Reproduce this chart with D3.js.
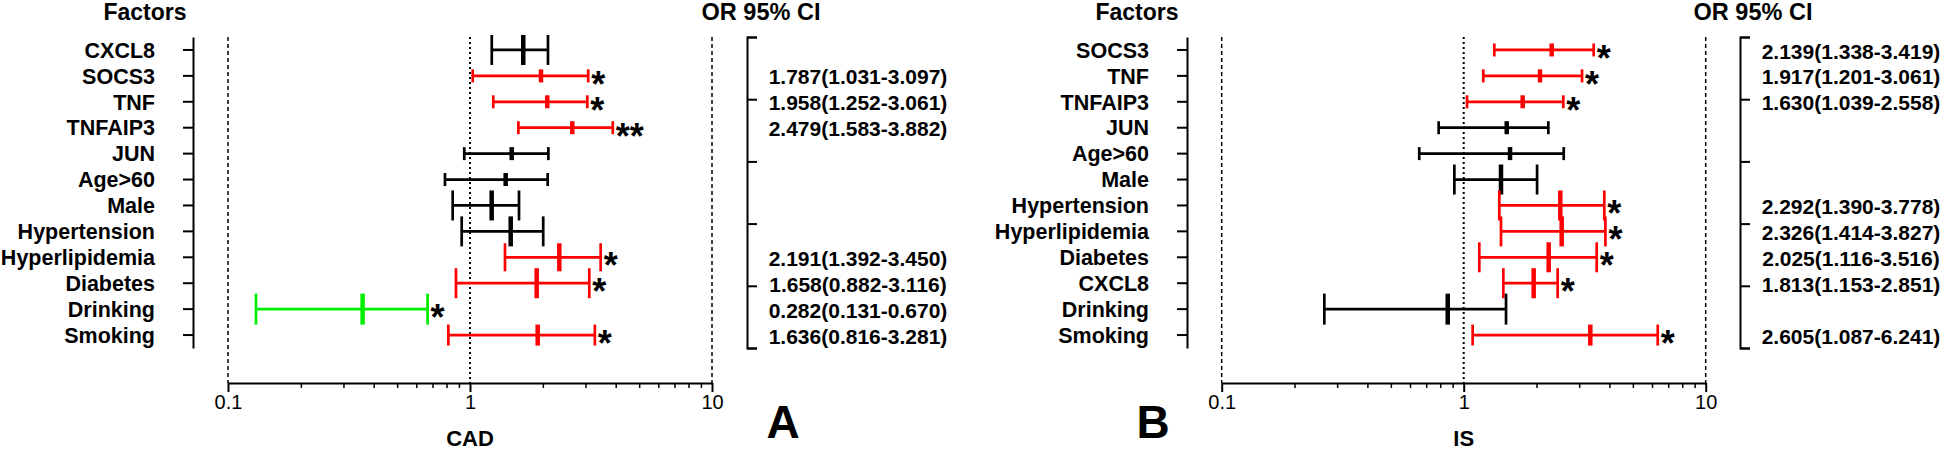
<!DOCTYPE html>
<html>
<head>
<meta charset="utf-8">
<script src="https://cdnjs.cloudflare.com/ajax/libs/d3/7.8.5/d3.min.js"></script>
<style>
  body { margin: 0; background: #fff; }
  svg text { font-family: "Liberation Sans", Arial, sans-serif; fill: #000; }
</style>
</head>
<body>
<script>
/*** DATA ***/
// panel A : CAD
const rowsA = ["CXCL8", "SOCS3", "TNF", "TNFAIP3", "JUN", "Age>60", "Male", "Hypertension", "Hyperlipidemia", "Diabetes", "Drinking", "Smoking"];
const lowA  = [1.23, 1.026, 1.248, 1.584, 0.947, 0.788, 0.848, 0.924, 1.395, 0.875, 0.1305, 0.814];
const midA  = [1.66, 1.965, 2.086, 2.647, 1.487, 1.404, 1.229, 1.473, 2.339, 1.886, 0.360, 1.904];
const highA = [2.10, 3.08, 3.053, 3.89, 2.108, 2.094, 1.594, 2.007, 3.467, 3.111, 0.668, 3.28];
const starsA = ["", "*", "*", "**", "", "", "", "", "*", "*", "*", "*"];
const orA = ["", "1.787(1.031-3.097)", "1.958(1.252-3.061)", "2.479(1.583-3.882)", "", "", "", "",
             "2.191(1.392-3.450)", "1.658(0.882-3.116)", "0.282(0.131-0.670)", "1.636(0.816-3.281)"];

// panel B : IS
const rowsB = ["SOCS3", "TNF", "TNFAIP3", "JUN", "Age>60", "Male", "Hypertension", "Hyperlipidemia", "Diabetes", "CXCL8", "Drinking", "Smoking"];
const lowB  = [1.338, 1.205, 1.032, 0.788, 0.655, 0.915, 1.403, 1.426, 1.16, 1.458, 0.2655, 1.089];
const midB  = [2.31, 2.067, 1.753, 1.506, 1.554, 1.426, 2.507, 2.54, 2.245, 1.946, 0.859, 3.336];
const highB = [3.445, 3.083, 2.58, 2.237, 2.59, 2.01, 3.81, 3.85, 3.545, 2.445, 1.496, 6.336];
const starsB = ["*", "*", "*", "", "", "", "*", "*", "*", "*", "", "*"];
const orB = ["2.139(1.338-3.419)", "1.917(1.201-3.061)", "1.630(1.039-2.558)", "", "", "",
             "2.292(1.390-3.778)", "2.326(1.414-3.827)", "2.025(1.116-3.516)", "1.813(1.153-2.851)", "", "2.605(1.087-6.241)"];

const xTicks = [0.1, 1, 10];

/* hauteur des barres de fin (style) */
const capA = [30, 13, 13, 13, 13, 13, 30, 30, 28, 30, 31, 21];
const capB = [13, 13, 13, 13, 13, 30, 30, 30, 30, 30, 31, 21];

/*** GRAPH ***/
let W = 1946, H = 451;
let plotTop = 37, plotBottom = 348, axisY = 383;

let svg = d3.select("body").append("svg")
  .attr("width", W)
  .attr("height", H);

function drawPanel(p) {
  let data = p.rows.map((r, i) => ({
    name: r, low: p.low[i], mid: p.mid[i], high: p.high[i],
    star: p.stars[i], or: p.or[i], cap: p.caps[i]
  }));

  let x = d3.scaleLog().domain([0.1, 10]).range(p.xRange);
  let y = d3.scaleBand().domain(p.rows).range([plotTop, plotBottom]);
  let yc = (d) => y(d) + y.bandwidth() / 2;

  let g = svg.append("g");

  /* titres */
  g.append("text").attr("x", p.factorsX).attr("y", 20)
    .attr("text-anchor", "middle").style("font-size", "23px").style("font-weight", "bold")
    .text("Factors");
  g.append("text").attr("x", p.orTitleX).attr("y", 20)
    .attr("text-anchor", "middle").style("font-size", "23.5px").style("font-weight", "bold")
    .text("OR 95% CI");

  /* lignes pointillées */
  g.selectAll(".ref")
    .data(xTicks)
    .enter().append("line")
    .attr("x1", (d) => x(d)).attr("x2", (d) => x(d))
    .attr("y1", plotTop).attr("y2", axisY)
    .attr("stroke", "#000")
    .attr("stroke-width", (d) => d == 1 ? 2 : 1.5)
    .attr("stroke-dasharray", (d) => d == 1 ? "2,3" : "4,3");

  /* axe y (facteurs) */
  let yAxis = d3.axisLeft(y).tickSize(10).tickSizeOuter(0).tickPadding(28);
  let ya = g.append("g")
    .attr("transform", "translate(" + p.yAxisX + ",0)")
    .call(yAxis);
  ya.select(".domain").attr("stroke-width", 2);
  ya.selectAll(".tick line").attr("stroke-width", 2);
  ya.selectAll(".tick text")
    .style("font-size", "21.5px").style("font-weight", "bold")
    .attr("dy", "0.36em");

  /* axe x (log) */
  let minor = [];
  [0.1, 1].forEach((dec) => { for (let k = 2; k <= 9; k++) minor.push(dec * k); });
  let xa = g.append("g").attr("transform", "translate(0," + axisY + ")");
  xa.call(d3.axisBottom(x).tickValues(minor).tickSize(5).tickSizeOuter(0).tickFormat(""));
  xa.selectAll(".tick line").attr("stroke-width", 1.5);
  xa.select(".domain").attr("stroke-width", 2);
  let xb = g.append("g").attr("transform", "translate(0," + axisY + ")");
  xb.call(d3.axisBottom(x).tickValues(xTicks).tickSize(9).tickSizeOuter(0).tickPadding(3)
    .tickFormat((d) => d3.format("")(d)));
  xb.select(".domain").remove();
  xb.selectAll(".tick line").attr("stroke-width", 2);
  xb.selectAll(".tick text").style("font-size", "20px");

  g.append("text").attr("x", x(1)).attr("y", 446)
    .attr("text-anchor", "middle").style("font-size", "22px").style("font-weight", "bold")
    .text(p.xlabel);
  g.append("text").attr("x", p.letterX).attr("y", 438)
    .attr("text-anchor", "middle").style("font-size", "46px").style("font-weight", "bold")
    .text(p.letter);

  /* crochet à droite */
  let yr = d3.scaleLinear().domain([0, 5]).range([plotBottom, plotTop]);
  let ra = g.append("g")
    .attr("transform", "translate(" + p.bracketX + ",0)")
    .call(d3.axisRight(yr).ticks(5).tickSize(10).tickSizeOuter(10).tickFormat(""));
  ra.select(".domain").attr("stroke-width", 2);
  ra.selectAll(".tick line").attr("stroke-width", 2);

  /* couleur : rouge si significatif, vert si protecteur */
  let color = (d) => d.star == "" ? "#000" : (d.mid < 1 ? "#00ee00" : "#ff0000");

  let bars = g.selectAll(".bar")
    .data(data)
    .enter().append("g")
    .attr("class", "bar");

  bars.append("line")
    .attr("x1", (d) => x(d.low)).attr("x2", (d) => x(d.high))
    .attr("y1", (d) => yc(d.name)).attr("y2", (d) => yc(d.name))
    .attr("stroke", color).attr("stroke-width", 2.7);

  ["low", "high"].forEach((k) => {
    bars.append("line")
      .attr("x1", (d) => x(d[k])).attr("x2", (d) => x(d[k]))
      .attr("y1", (d) => yc(d.name) - d.cap / 2).attr("y2", (d) => yc(d.name) + d.cap / 2)
      .attr("stroke", color).attr("stroke-width", 2.7);
  });

  bars.append("line")
    .attr("x1", (d) => x(d.mid)).attr("x2", (d) => x(d.mid))
    .attr("y1", (d) => yc(d.name) - d.cap / 2).attr("y2", (d) => yc(d.name) + d.cap / 2)
    .attr("stroke", color).attr("stroke-width", 4.5);

  bars.append("text")
    .attr("x", (d) => x(d.high) + 3)
    .attr("y", (d) => yc(d.name) + 21)
    .style("font-size", "36px").style("font-weight", "bold")
    .text((d) => d.star);

  /* OR 95% CI */
  g.selectAll(".or")
    .data(data.filter((d) => d.or != ""))
    .enter().append("text")
    .attr("x", p.orX)
    .attr("y", (d) => yc(d.name) + 1)
    .attr("dy", "0.36em")
    .attr("text-anchor", "middle")
    .style("font-size", "21px").style("font-weight", "bold")
    .text((d) => d.or);
}

drawPanel({
  rows: rowsA, low: lowA, mid: midA, high: highA, stars: starsA, or: orA, caps: capA,
  xRange: [228, 712], yAxisX: 193, bracketX: 747, orX: 858,
  factorsX: 145, orTitleX: 761, xlabel: "CAD", letter: "A", letterX: 783
});

drawPanel({
  rows: rowsB, low: lowB, mid: midB, high: highB, stars: starsB, or: orB, caps: capB,
  xRange: [1221.7, 1705.7], yAxisX: 1187, bracketX: 1740, orX: 1851,
  factorsX: 1137, orTitleX: 1753, xlabel: "IS", letter: "B", letterX: 1153
});
</script>
</body>
</html>
